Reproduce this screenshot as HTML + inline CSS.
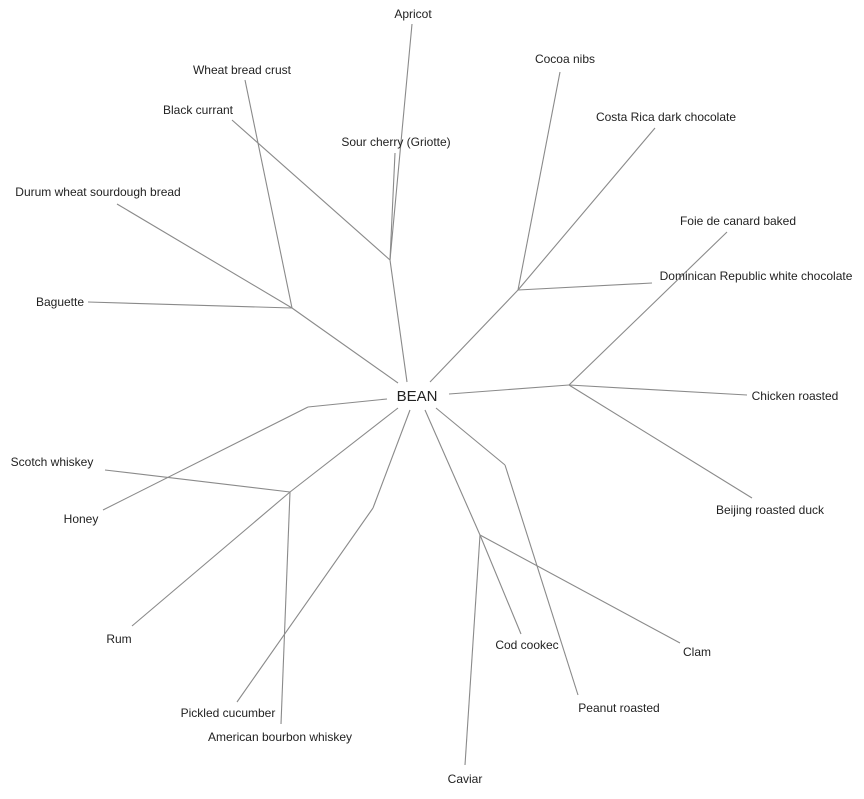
<!DOCTYPE html>
<html><head><style>body{margin:0;background:#fff}svg text{font-family:"Liberation Sans",sans-serif;font-size:12px;fill:#222}</style></head>
<body><svg width="864" height="794" xmlns="http://www.w3.org/2000/svg">
<g stroke="#8a8a8a" stroke-width="1.1" fill="none">
<line x1="407" y1="382" x2="390" y2="260"/><line x1="390" y1="260" x2="412" y2="24"/><line x1="390" y1="260" x2="395" y2="153"/><line x1="390" y1="260" x2="232" y2="120"/>
<line x1="398" y1="383" x2="292" y2="308"/><line x1="292" y1="308" x2="245" y2="80"/><line x1="292" y1="308" x2="117" y2="204"/><line x1="292" y1="308" x2="88" y2="302"/>
<line x1="430" y1="382" x2="518" y2="290"/><line x1="518" y1="290" x2="560" y2="72"/><line x1="518" y1="290" x2="655" y2="128"/><line x1="518" y1="290" x2="652" y2="283"/>
<line x1="449" y1="394" x2="569" y2="385"/><line x1="569" y1="385" x2="727" y2="232"/><line x1="569" y1="385" x2="747" y2="395"/><line x1="569" y1="385" x2="752" y2="498"/>
<line x1="436" y1="408" x2="505" y2="465"/><line x1="505" y1="465" x2="578" y2="695"/>
<line x1="425" y1="410" x2="480" y2="535"/><line x1="480" y1="535" x2="521" y2="634"/><line x1="480" y1="535" x2="680" y2="643"/><line x1="480" y1="535" x2="465" y2="765"/>
<line x1="410" y1="410" x2="373" y2="508"/><line x1="373" y1="508" x2="237" y2="702"/>
<line x1="398" y1="408" x2="290" y2="492"/><line x1="290" y1="492" x2="105" y2="470"/><line x1="290" y1="492" x2="132" y2="626"/><line x1="290" y1="492" x2="281" y2="724"/>
<line x1="387" y1="399" x2="308" y2="407"/><line x1="308" y1="407" x2="103" y2="510"/>
</g>
<text x="417" y="401" text-anchor="middle" style="font-size:15px">BEAN</text>
<text x="413" y="18" text-anchor="middle">Apricot</text>
<text x="242" y="74" text-anchor="middle">Wheat bread crust</text>
<text x="198" y="114" text-anchor="middle">Black currant</text>
<text x="396" y="146" text-anchor="middle">Sour cherry (Griotte)</text>
<text x="98" y="196" text-anchor="middle">Durum wheat sourdough bread</text>
<text x="60" y="306" text-anchor="middle">Baguette</text>
<text x="565" y="63" text-anchor="middle">Cocoa nibs</text>
<text x="666" y="121" text-anchor="middle">Costa Rica dark chocolate</text>
<text x="738" y="225" text-anchor="middle">Foie de canard baked</text>
<text x="756" y="280" text-anchor="middle">Dominican Republic white chocolate</text>
<text x="795" y="400" text-anchor="middle">Chicken roasted</text>
<text x="770" y="514" text-anchor="middle">Beijing roasted duck</text>
<text x="52" y="466" text-anchor="middle">Scotch whiskey</text>
<text x="81" y="523" text-anchor="middle">Honey</text>
<text x="119" y="643" text-anchor="middle">Rum</text>
<text x="527" y="649" text-anchor="middle">Cod cookec</text>
<text x="697" y="656" text-anchor="middle">Clam</text>
<text x="619" y="712" text-anchor="middle">Peanut roasted</text>
<text x="228" y="717" text-anchor="middle">Pickled cucumber</text>
<text x="280" y="741" text-anchor="middle">American bourbon whiskey</text>
<text x="465" y="783" text-anchor="middle">Caviar</text>
</svg></body></html>
